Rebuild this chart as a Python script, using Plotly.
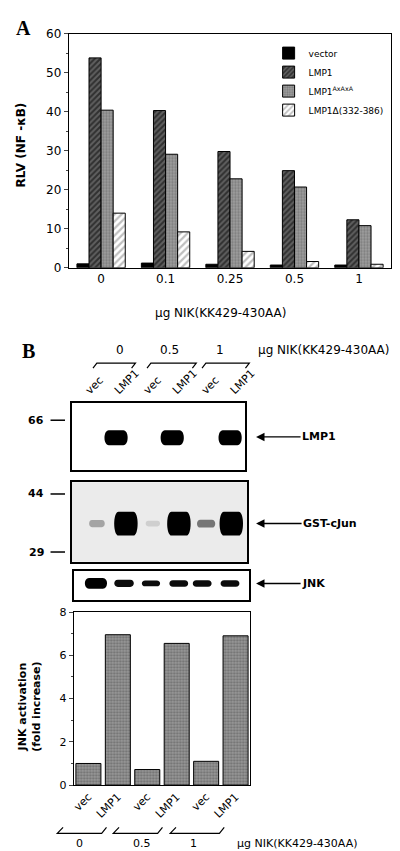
import plotly.graph_objects as go

W, H = 400, 851

# ---- panel A data: NF-kB reporter (RLV) ----
doses_a = ["0", "0.1", "0.25", "0.5", "1"]
rlv_vector = [1.0, 1.2, 0.9, 0.7, 0.7]
rlv_lmp1 = [53.8, 40.3, 29.8, 24.9, 12.3]
rlv_axaxa = [40.4, 29.1, 22.8, 20.7, 10.8]
rlv_delta = [14.0, 9.2, 4.2, 1.6, 0.9]

# ---- panel B data ----
lane_labels = ["vec", "LMP1", "vec", "LMP1", "vec", "LMP1"]
doses_b = ["0", "0.5", "1"]
# relative band intensities (0 = no band, 1 = saturated)
lmp1_bands = [0.0, 1.0, 0.0, 1.0, 0.0, 1.0]
cjun_bands = [0.3, 1.0, 0.12, 1.0, 0.5, 1.0]
jnk_bands = [1.0, 0.95, 0.95, 0.95, 0.95, 0.95]
jnk_fold = [1.0, 6.95, 0.72, 6.55, 1.1, 6.9]

# lane positions / band sizes inside each blot (layout only)
lmp1_pos = [0.5, 1.53, 2.5, 3.47, 4.5, 5.47]
cjun_pos = [0.86, 1.85, 2.77, 3.66, 4.59, 5.45]
jnk_pos = [0.76, 1.72, 2.64, 3.59, 4.39, 5.34]
cjun_w = [0.6, 0.9, 0.55, 0.9, 0.7, 0.9]
cjun_h = [0.09, 0.3, 0.07, 0.3, 0.1, 0.3]
jnk_w = [0.85, 0.75, 0.7, 0.72, 0.72, 0.72]
jnk_h = [0.36, 0.24, 0.2, 0.22, 0.22, 0.22]


def px(x):
    return x / W


def py(y):
    return 1 - y / H


def band_path(xc, yc, w, h):
    # pill shaped band
    x0, x1 = xc - w / 2, xc + w / 2
    y0, y1 = yc - h / 2, yc + h / 2
    r = w * 0.22
    return (f"M {x0 + r},{y0} L {x1 - r},{y0} C {x1},{y0} {x1},{y1} {x1 - r},{y1} "
            f"L {x0 + r},{y1} C {x0},{y1} {x0},{y0} {x0 + r},{y0} Z")


def grey(i):
    g = int(round(235 * (1 - i)))
    return f"rgb({g},{g},{g})"


FONT = "DejaVu Sans"
fig = go.Figure()

# Panel A bars
fig.add_trace(go.Bar(x=doses_a, y=rlv_vector, name="vector",
                     marker=dict(color="black", line=dict(color="black", width=1))))
fig.add_trace(go.Bar(x=doses_a, y=rlv_lmp1, name="LMP1",
                     marker=dict(color="#555555", line=dict(color="black", width=1),
                                 pattern=dict(shape="/", fgcolor="black", bgcolor="#606060",
                                              size=4, solidity=0.5))))
fig.add_trace(go.Bar(x=doses_a, y=rlv_axaxa, name="LMP1<sup>AxAxA</sup>",
                     marker=dict(color="#8c8c8c", line=dict(color="black", width=1),
                                 pattern=dict(shape=".", fgcolor="#555555", bgcolor="#a0a0a0",
                                              size=3, solidity=0.45))))
fig.add_trace(go.Bar(x=doses_a, y=rlv_delta, name="LMP1\u0394(332-386)",
                     marker=dict(color="white", line=dict(color="black", width=1),
                                 pattern=dict(shape="/", fgcolor="#808080", bgcolor="white",
                                              size=5, solidity=0.45))))

# JNK activation bars
fig.add_trace(go.Bar(x=list(range(len(jnk_fold))), y=jnk_fold, width=0.85,
                     xaxis="x5", yaxis="y5", showlegend=False,
                     marker=dict(color="#8c8c8c", line=dict(color="black", width=1),
                                 pattern=dict(shape=".", fgcolor="#4a4a4a", bgcolor="#999999",
                                              size=3, solidity=0.45))))

shapes = []
# blot bands
for i, v in enumerate(lmp1_bands):
    if v > 0:
        shapes.append(dict(type="path", xref="x2", yref="y2", line_width=0,
                           fillcolor=grey(v), path=band_path(lmp1_pos[i], 0.48, 0.9, 0.22)))
for i, v in enumerate(cjun_bands):
    shapes.append(dict(type="path", xref="x3", yref="y3", line_width=0,
                       fillcolor=grey(v), path=band_path(cjun_pos[i], 0.48, cjun_w[i], cjun_h[i])))
for i, v in enumerate(jnk_bands):
    shapes.append(dict(type="path", xref="x4", yref="y4", line_width=0,
                       fillcolor=grey(v), path=band_path(jnk_pos[i], 0.57, jnk_w[i], jnk_h[i])))
# grey film background for cJun blot
shapes.append(dict(type="rect", xref="x3 domain", yref="y3 domain", x0=0, x1=1, y0=0, y1=1,
                   fillcolor="#ebebeb", line_width=0, layer="below"))

# size markers
for yy in [412, 487, 546]:
    shapes.append(dict(type="line", xref="paper", yref="paper", x0=px(42), x1=px(57),
                       y0=py(yy), y1=py(yy), line=dict(color="black", width=1.5)))

# brackets above blots
for x0, x1 in [(86, 130), (142, 193), (199, 248)]:
    shapes.append(dict(type="path", xref="paper", yref="paper", line=dict(color="black", width=1.2),
                       path=f"M {px(x0)},{py(359)} L {px(x0 + 4)},{py(354)} "
                            f"L {px(x1)},{py(354)} L {px(x1 - 4)},{py(359)}"))
# brackets below bar chart
for x0, x1 in [(49, 100), (107, 158), (166, 222)]:
    shapes.append(dict(type="path", xref="paper", yref="paper", line=dict(color="black", width=1.2),
                       path=f"M {px(x0 + 6)},{py(826)} L {px(x0)},{py(832)} "
                            f"L {px(x1 - 5)},{py(832)} L {px(x1)},{py(826)}"))

ann = []


def text(x, y, s, size=10, bold=False, anchor="center", family=FONT, angle=0):
    ann.append(dict(x=px(x), y=py(y), xref="paper", yref="paper", showarrow=False,
                    text=f"<b>{s}</b>" if bold else s, xanchor=anchor, yanchor="middle",
                    textangle=angle, font=dict(family=family, size=size, color="black")))


text(4, 13, "A", size=20, bold=True, anchor="left", family="Liberation Serif")
text(11, 132, "RLV (NF -\u03baB)", size=12, bold=True, angle=-90)
text(218, 303, "\u03bcg NIK(KK429-430AA)", size=12)

text(10, 342, "B", size=20, bold=True, anchor="left", family="Liberation Serif")
for s, x in zip(doses_b, [114, 165, 218]):
    text(x, 341, s, size=12)
text(255, 341, "\u03bcg NIK(KK429-430AA)", size=12, anchor="left")

for s, yy in zip(["66", "44", "29"], [412, 487, 546]):
    text(27, yy, s, size=11, bold=True)

for s, yy, w in [("LMP1", 429, 36), ("GST-cJun", 517, 58), ("JNK", 578, 25)]:
    ann.append(dict(x=px(255), y=py(yy), xref="paper", yref="paper", showarrow=True,
                    ax=43 + w / 2 + 2, ay=0, arrowhead=2, arrowsize=1.3, arrowwidth=1.3,
                    arrowcolor="black", text=f"<b>{s}</b>",
                    font=dict(family=FONT, size=11, color="black")))

text(20, 703, "JNK activation<br>(fold increase)", size=11, bold=True, angle=-90)
for s, x in zip(doses_b, [72, 137, 190]):
    text(x, 842, s, size=11)
text(233, 842, "\u03bcg NIK(KK429-430AA)", size=11, anchor="left")

blot_axis = dict(showgrid=False, zeroline=False, showticklabels=False, ticks="",
                 showline=True, mirror=True, linecolor="black", linewidth=1.5, fixedrange=True)

fig.update_layout(
    width=W, height=H,
    margin=dict(l=0, r=0, t=0, b=0),
    paper_bgcolor="white", plot_bgcolor="white",
    font=dict(family=FONT, size=10, color="black"),
    barmode="group", bargap=0.25, bargroupgap=0,
    showlegend=True,
    legend=dict(x=px(268), y=py(24), xanchor="left", yanchor="top",
                bgcolor="rgba(0,0,0,0)", font=dict(size=9), itemwidth=30),
    xaxis=dict(domain=[px(61), px(395)], anchor="y", showline=True, mirror=True,
               linecolor="black", linewidth=1.2, ticks="", tickfont=dict(size=12), showgrid=False),
    yaxis=dict(domain=[py(257), py(19)], anchor="x", range=[0, 60], dtick=10,
               showline=True, mirror=True, linecolor="black", linewidth=1.2,
               ticks="outside", ticklen=4, showgrid=False, zeroline=False,
               tickfont=dict(size=12), minor=dict(dtick=5, ticks="outside", ticklen=2)),
    xaxis2=dict(blot_axis, domain=[px(64), px(244)], anchor="y2", range=[0, 6], side="top",
                showticklabels=True, tickvals=[0.5, 1.5, 2.5, 3.5, 4.5, 5.5],
                ticktext=lane_labels, tickangle=-45, tickfont=dict(size=11)),
    yaxis2=dict(blot_axis, domain=[py(463), py(394)], anchor="x2", range=[0, 1]),
    xaxis3=dict(blot_axis, domain=[px(64), px(246)], anchor="y3", range=[0, 6]),
    yaxis3=dict(blot_axis, domain=[py(556), py(475)], anchor="x3", range=[0, 1]),
    xaxis4=dict(blot_axis, domain=[px(66), px(248)], anchor="y4", range=[0, 6]),
    yaxis4=dict(blot_axis, domain=[py(595), py(565)], anchor="x4", range=[0, 1]),
    xaxis5=dict(domain=[px(66), px(249)], anchor="y5", range=[-0.5, 5.5],
                tickvals=list(range(6)), ticktext=lane_labels, tickangle=-45,
                showline=True, mirror=True, linecolor="black", linewidth=1.2,
                ticks="", showgrid=False, tickfont=dict(size=11)),
    yaxis5=dict(domain=[py(783), py(607)], anchor="x5", range=[0, 8], dtick=2,
                showline=True, mirror=True, linecolor="black", linewidth=1.2,
                ticks="outside", ticklen=4, showgrid=False, zeroline=False,
                tickfont=dict(size=11), minor=dict(dtick=1, ticks="outside", ticklen=2)),
    shapes=shapes,
    annotations=ann,
)

fig.write_html("out.html")
